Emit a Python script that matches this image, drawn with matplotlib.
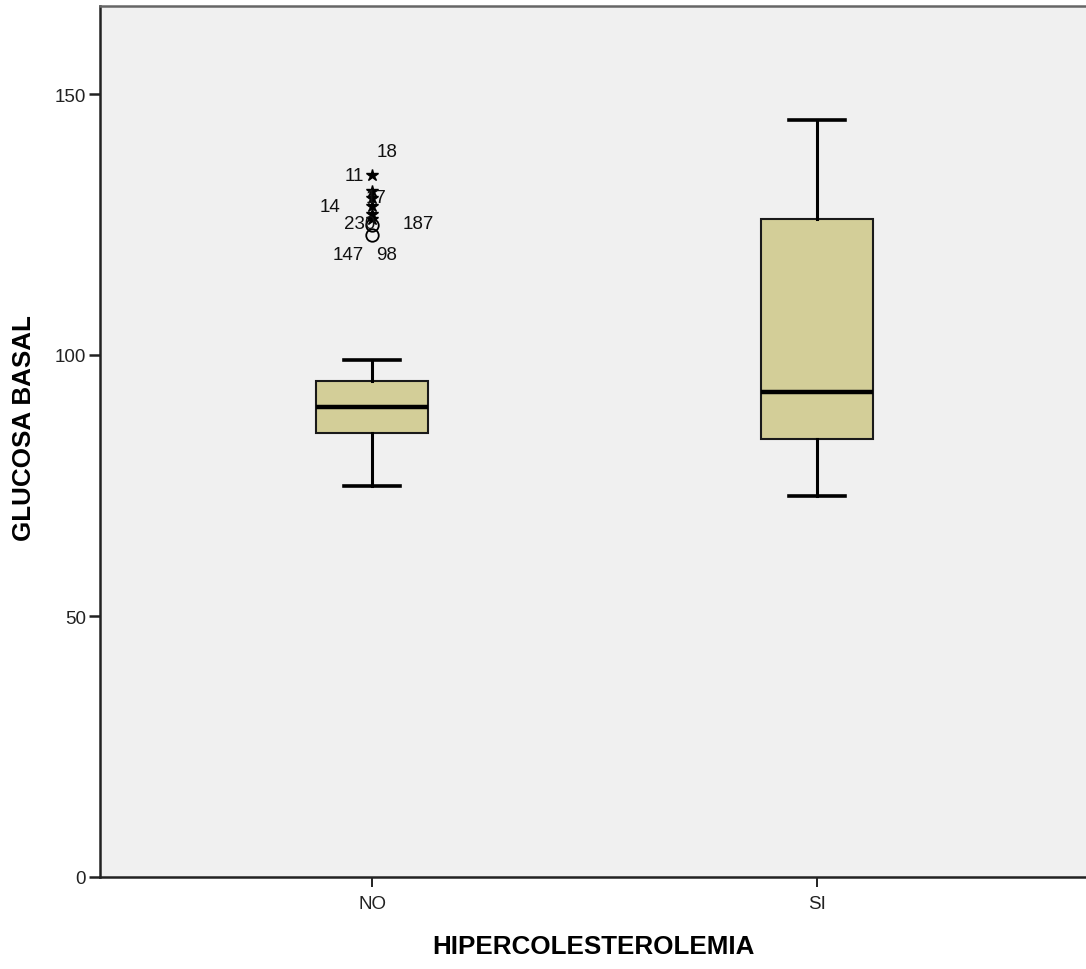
import matplotlib
matplotlib.use("Agg")
import matplotlib.pyplot as plt
from matplotlib.transforms import offset_copy

plt.rcParams['font.family'] = ['Liberation Sans', 'DejaVu Sans']

# Summary statistics for GLUCOSA BASAL by group
groups = ['NO', 'SI']
whisker_low = [75, 73]
q1 = [85, 84]
median = [90, 93]
q3 = [95, 126]
whisker_high = [99, 145]

# Outlying cases in group NO: value, case id, marker kind
outlier_values = [134.5, 131.5, 130.0, 128.5, 127.0, 126.0, 125.0, 123.0]
outlier_ids = ['11', '18', '17', '14', '98', '187', '230', '147']
outlier_extreme = [True, True, True, True, True, True, False, False]

y_ticks = [0, 50, 100, 150]

# Label placement for case ids (pixel offsets from point, label y value)
label_layout = {
    '18': (15, 138.9), '11': (-18, 134.3), '17': (4, 130.1), '14': (-42, 128.5),
    '230': (-12, 125.1), '187': (46, 125.1), '147': (-24, 119.3), '98': (15, 119.3),
}

fig = plt.figure(figsize=(10.86, 9.70), dpi=100)
ax = fig.add_axes([100 / 1086, 1 - 878 / 970, 986 / 1086, 871 / 970])
ax.set_facecolor('#F0F0F0')

positions = [1, 2]
stats = []
for i, g in enumerate(groups):
    stats.append(dict(label=g, whislo=whisker_low[i], q1=q1[i], med=median[i],
                      q3=q3[i], whishi=whisker_high[i], fliers=[]))

ax.bxp(stats, positions=positions, widths=0.252, patch_artist=True,
       showfliers=False,
       boxprops=dict(facecolor='#D3CE98', edgecolor='#1a1a1a', linewidth=1.5),
       medianprops=dict(color='black', linewidth=3.2),
       whiskerprops=dict(color='black', linewidth=2.2),
       capprops=dict(color='black', linewidth=2.6),
       capwidths=0.126)

# Outliers for group NO
xo = positions[0]
for v, ext in zip(outlier_values, outlier_extreme):
    if ext:
        ax.plot(xo, v, marker='*', markersize=9, color='black',
                markerfacecolor='black', linestyle='none', zorder=5)
    else:
        ax.plot(xo, v, marker='o', markersize=9, markerfacecolor='none',
                markeredgecolor='black', markeredgewidth=1.3,
                linestyle='none', zorder=5)

for cid in outlier_ids:
    dx, ly = label_layout[cid]
    tr = offset_copy(ax.transData, fig=fig, x=dx, y=0, units='dots')
    ax.text(xo, ly, cid, transform=tr, ha='center', va='center',
            fontsize=13.5, color='#111111', zorder=6)

ax.set_xlim(1 - 272 / 445, 2 + 269 / 445)
ax.set_ylim(0, 871 / 5.22)
ax.set_yticks(y_ticks)
ax.set_yticklabels([str(t) for t in y_ticks])
ax.set_xticks(positions)
ax.set_xticklabels(groups)

for s in ['left', 'bottom']:
    ax.spines[s].set_color('#222222')
    ax.spines[s].set_linewidth(1.8)
ax.spines['top'].set_color('#666666')
ax.spines['top'].set_linewidth(1.8)
ax.spines['right'].set_visible(False)

ax.tick_params(axis='y', length=8, width=1.8, color='#222222', labelsize=13.5,
               pad=2, labelcolor='#222222')
ax.tick_params(axis='x', length=7, width=1.4, color='#222222', labelsize=13.5,
               pad=6, labelcolor='#222222')

ax.set_ylabel('GLUCOSA BASAL', fontsize=18.7, fontweight='bold')
ax.yaxis.set_label_coords(-0.065, 0.517)
ax.set_xlabel('HIPERCOLESTEROLEMIA', fontsize=18.7, fontweight='bold', labelpad=16)

fig.savefig('out.png', dpi=100)
